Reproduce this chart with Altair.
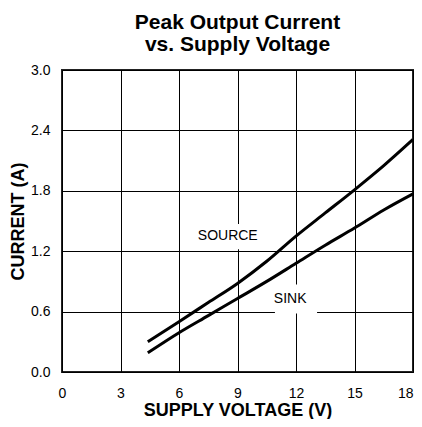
import altair as alt
import pandas as pd

# Data
voltage = [4.4, 6, 7.5, 9, 10.5, 12, 13.5, 15, 16.5, 18]
source_current = [0.30, 0.50, 0.69, 0.88, 1.10, 1.35, 1.58, 1.81, 2.05, 2.31]
sink_current = [0.19, 0.39, 0.56, 0.73, 0.90, 1.08, 1.26, 1.43, 1.61, 1.77]

x_ticks = [0, 3, 6, 9, 12, 15, 18]
y_ticks = [0.0, 0.6, 1.2, 1.8, 2.4, 3.0]

label_text = ["SOURCE", "SINK"]
label_x = [8.5, 11.7]
label_y = [1.35, 0.73]

rows = []
for v, s, k in zip(voltage, source_current, sink_current):
    rows.append({"v": v, "i": s, "series": "SOURCE"})
    rows.append({"v": v, "i": k, "series": "SINK"})
df = pd.DataFrame(rows)

labels = pd.DataFrame({"t": label_text, "x": label_x, "y": label_y,
                       "x1": [6.92, 10.92], "x2": [10.05, 13.08],
                       "y1": [1.22, 0.58], "y2": [1.47, 0.87]})

FONT = "Liberation Sans"

xs = alt.Scale(domain=[0, 18], nice=False)
ys = alt.Scale(domain=[0, 3.0], nice=False)

base_x = alt.X("v:Q", scale=xs, title="SUPPLY VOLTAGE (V)",
               axis=alt.Axis(values=x_ticks, ticks=False, labelPadding=14,
                             labelFontSize=14, labelFont=FONT, labelColor="#000",
                             labelAlign=alt.ExprRef(expr="datum.value == 18 ? 'right' : 'center'"),
                             titleFont=FONT, titleFontSize=18, titleFontWeight="bold",
                             titleColor="#000", titleY=43, titleBaseline="alphabetic",
                             grid=True, gridColor="#000", gridWidth=1, gridOpacity=1,
                             domain=False, labelFlush=False))
base_y = alt.Y("i:Q", scale=ys, title="CURRENT (A)",
               axis=alt.Axis(values=y_ticks, format=".1f", ticks=False, labelPadding=12,
                             labelFontSize=14, labelFont=FONT, labelColor="#000",
                             titleFont=FONT, titleFontSize=18, titleFontWeight="bold",
                             titleColor="#000", titlePadding=3,
                             grid=True, gridColor="#000", gridWidth=1, gridOpacity=1,
                             domain=False, labelFlush=False))

lines = alt.Chart(df).mark_line(color="#000", strokeWidth=3, interpolate="monotone").encode(
    x=base_x, y=base_y, detail="series:N")

boxes = alt.Chart(labels).mark_rect(color="white").encode(
    x="x1:Q", x2="x2:Q", y="y1:Q", y2="y2:Q")

texts = alt.Chart(labels).mark_text(font=FONT, fontSize=14, color="#000").encode(
    x="x:Q", y="y:Q", text="t:N")

chart = alt.layer(lines, boxes, texts).properties(
    width=351, height=302,
    title=alt.TitleParams(["Peak Output Current", "vs. Supply Voltage"],
                          font=FONT, fontSize=21, fontWeight="bold", color="#000",
                          anchor="middle", lineHeight=22, offset=8),
    autosize=alt.AutoSizeParams(type="none"),
    padding={"left": 54, "top": 62, "right": 1, "bottom": 47},
).configure_view(stroke="#222", strokeWidth=2)

chart.save("out.html", embed_options={"renderer": "svg", "actions": False})
